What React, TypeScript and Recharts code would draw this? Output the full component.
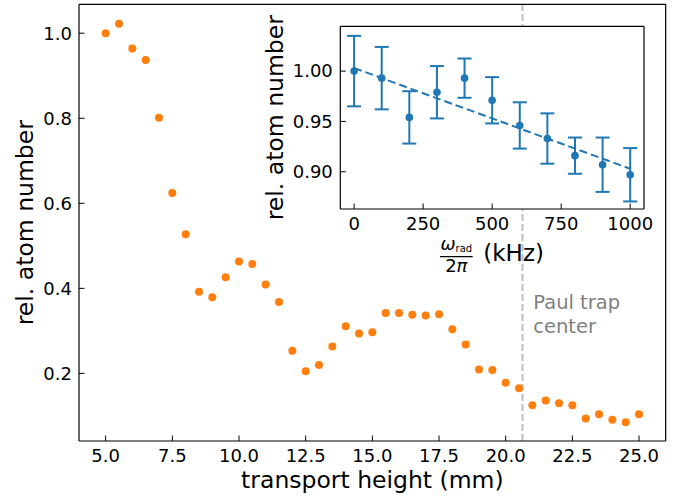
import React from 'react';
import { ScatterChart, Scatter, XAxis, YAxis, ReferenceLine, ErrorBar, CartesianGrid } from 'recharts';

// transport height scan (main panel)
const heights = [5, 5.5, 6, 6.5, 7, 7.5, 8, 8.5, 9, 9.5, 10, 10.5, 11, 11.5, 12, 12.5, 13, 13.5, 14, 14.5, 15,
  15.5, 16, 16.5, 17, 17.5, 18, 18.5, 19, 19.5, 20, 20.5, 21, 21.5, 22, 22.5, 23, 23.5, 24, 24.5, 25];
const atoms = [1.0, 1.022, 0.964, 0.937, 0.801, 0.624, 0.527, 0.392, 0.379, 0.426, 0.463, 0.457, 0.409, 0.368,
  0.253, 0.205, 0.22, 0.263, 0.311, 0.294, 0.297, 0.342, 0.342, 0.338, 0.336, 0.339, 0.304, 0.268, 0.209, 0.208,
  0.178, 0.165, 0.125, 0.136, 0.13, 0.125, 0.094, 0.104, 0.091, 0.085, 0.104];
const heightTicks = [5, 7.5, 10, 12.5, 15, 17.5, 20, 22.5, 25];
const atomTicks = [0.2, 0.4, 0.6, 0.8, 1.0];
const paulTrapCenter = 20.63;

// radial frequency scan (inset)
const freqs = [0, 100, 200, 300, 400, 500, 600, 700, 800, 900, 1000];
const insetAtoms = [1.0, 0.993, 0.954, 0.979, 0.993, 0.971, 0.946, 0.933, 0.916, 0.907, 0.897];
const insetErr = [0.035, 0.031, 0.026, 0.026, 0.0195, 0.023, 0.023, 0.025, 0.018, 0.027, 0.0265];
const fitFreqs = [0, 1000];
const fitAtoms = [1.003, 0.903];
const freqTicks = [0, 250, 500, 750, 1000];
const insetTicks = [0.9, 0.95, 1.0];

const mainData = heights.map((x, i) => ({ x, y: atoms[i] }));
const insetData = freqs.map((x, i) => ({ x, y: insetAtoms[i], err: insetErr[i] }));
const fitData = fitFreqs.map((x, i) => ({ x, y: fitAtoms[i] }));

const ORANGE = '#ff7f0e';
const BLUE = '#1f77b4';
const tickStyle = { fill: '#000', fontSize: 18 };
const axisLine = { stroke: '#000', strokeWidth: 1.2 };
const tickLine = { stroke: '#000', strokeWidth: 1 };
const noShape = () => <g />;

// top / right axes get 1px so Recharts still draws them (frame + inward ticks)
const MainChart = () => (
  <ScatterChart width={682} height={498} margin={{ top: 3.3, right: 15.3, bottom: 0, left: 0 }}>
    <XAxis dataKey="x" type="number" domain={[4, 26]} ticks={heightTicks} tickFormatter={(v) => v.toFixed(1)}
      height={57} tick={tickStyle} axisLine={axisLine} tickLine={tickLine} tickSize={-5.5} tickMargin={13.7} />
    <XAxis xAxisId="top" dataKey="x" orientation="top" type="number" domain={[4, 26]} ticks={heightTicks} height={1}
      tick={false} axisLine={axisLine} tickLine={tickLine} tickSize={-5.5} />
    <YAxis dataKey="y" type="number" domain={[0.041, 1.068]} ticks={atomTicks} tickFormatter={(v) => v.toFixed(1)}
      width={79} tick={tickStyle} axisLine={axisLine} tickLine={tickLine} tickSize={-5.5} tickMargin={12.5} />
    <YAxis yAxisId="right" dataKey="y" orientation="right" type="number" domain={[0.041, 1.068]} ticks={atomTicks}
      width={1} tick={false} axisLine={axisLine} tickLine={tickLine} tickSize={-5.5} />
    <ReferenceLine x={paulTrapCenter} stroke="#bfbfbf" strokeWidth={2} strokeDasharray="7 3" />
    <Scatter data={mainData} xAxisId="top" yAxisId="right" isAnimationActive={false} shape={noShape} />
    <Scatter data={mainData} fill={ORANGE} isAnimationActive={false}
      shape={(p: any) => <circle cx={p.cx} cy={p.cy} r={4} fill={ORANGE} />} />
  </ScatterChart>
);

const InsetChart = () => (
  <ScatterChart width={390} height={270} margin={{ top: 25.3, right: 15, bottom: 0, left: 0 }}>
    <CartesianGrid horizontal={false} vertical={false} fill="#fff" />
    <XAxis dataKey="x" type="number" domain={[-50, 1050]} ticks={freqTicks} height={61} tick={tickStyle}
      axisLine={axisLine} tickLine={tickLine} tickSize={-5.5} tickMargin={13.7} />
    <XAxis xAxisId="top" dataKey="x" orientation="top" type="number" domain={[-50, 1050]} ticks={freqTicks}
      height={1} tick={false} axisLine={axisLine} tickLine={tickLine} tickSize={-5.5} />
    <YAxis dataKey="y" type="number" domain={[0.863, 1.0445]} ticks={insetTicks} tickFormatter={(v) => v.toFixed(2)}
      width={70.3} tick={tickStyle} axisLine={axisLine} tickLine={tickLine} tickSize={-5.5} tickMargin={13} />
    <YAxis yAxisId="right" dataKey="y" orientation="right" type="number" domain={[0.863, 1.0445]} ticks={insetTicks}
      width={1} tick={false} axisLine={axisLine} tickLine={tickLine} tickSize={-5.5} />
    <Scatter data={fitData} xAxisId="top" yAxisId="right" isAnimationActive={false} shape={noShape} />
    <Scatter data={fitData} fill={BLUE} isAnimationActive={false} shape={noShape}
      line={{ stroke: BLUE, strokeWidth: 2, strokeDasharray: '8 4' }} />
    <Scatter data={insetData} fill={BLUE} isAnimationActive={false}
      shape={(p: any) => <circle cx={p.cx} cy={p.cy} r={3.8} fill={BLUE} />}>
      <ErrorBar dataKey="err" direction="y" width={7} stroke={BLUE} strokeWidth={2} isAnimationActive={false} />
    </Scatter>
  </ScatterChart>
);

export default function App() {
  return (
    <div style={{ position: 'absolute', left: 0, top: 0, width: 682, height: 498, background: '#fff',
      fontFamily: 'DejaVu Sans' }}>
      <div style={{ position: 'absolute', left: 0, top: 0 }}>
        <MainChart />
      </div>
      <div style={{ position: 'absolute', left: 270, top: 0 }}>
        <InsetChart />
      </div>
      <svg width={682} height={498} style={{ position: 'absolute', left: 0, top: 0, pointerEvents: 'none' }}
        fontFamily="DejaVu Sans">
        <text x={372.4} y={488} textAnchor="middle" fontSize={23.5}>transport height (mm)</text>
        <text transform="translate(33,222.7) rotate(-90)" textAnchor="middle" fontSize={23.5}>rel. atom number</text>
        <text x={533.3} y={309.3} fontSize={19.5} fill="#808080">Paul trap</text>
        <text x={533.3} y={332.6} fontSize={19.5} fill="#808080">center</text>
        <text transform="translate(282.7,117.7) rotate(-90)" textAnchor="middle" fontSize={23.5}>rel. atom number</text>
        <text x={456.3} y={250} textAnchor="middle">
          <tspan fontSize={18} fontStyle="italic">ω</tspan>
          <tspan fontSize={10} dy={2}>rad</tspan>
        </text>
        <line x1={440} x2={472.7} y1={256.7} y2={256.7} stroke="#000" strokeWidth={1.2} />
        <text x={456.3} y={271.7} textAnchor="middle" fontSize={18}>
          <tspan>2</tspan><tspan fontStyle="italic">π</tspan>
        </text>
        <text x={483.3} y={261} fontSize={23}>(kHz)</text>
      </svg>
    </div>
  );
}
